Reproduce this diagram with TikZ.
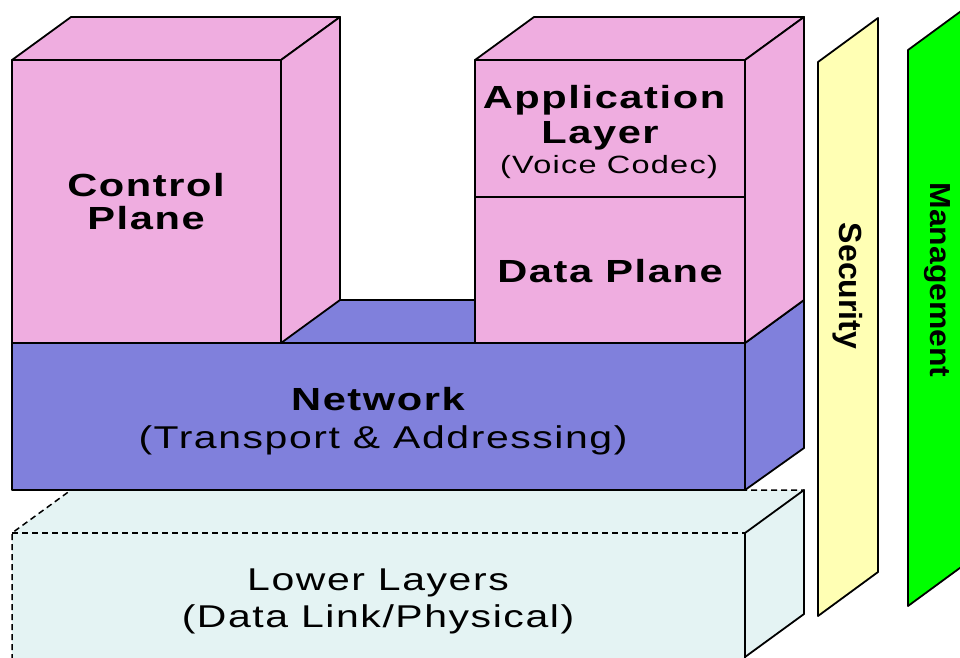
\documentclass[tikz,border=0pt]{standalone}
\usepackage{fontspec}
% wide, lightly tracked sans for the block labels; plain sans for the side bars
\newfontfamily\labelfont[FakeStretch=1.3,LetterSpace=5]{Liberation Sans}
\newfontfamily\barfont{Liberation Sans}
\definecolor{planefill}{RGB}{239,173,224}
\definecolor{netfill}{RGB}{128,128,220}
\definecolor{lowfill}{RGB}{228,243,243}
\definecolor{secfill}{RGB}{255,255,180}
\definecolor{mgmtfill}{RGB}{0,255,0}
\begin{document}
\begin{tikzpicture}[x=1pt,y=-1pt,
  edge/.style={draw=black,line width=1.8pt,line join=round},
  dashedge/.style={draw=black,line width=1.5pt,dash pattern=on 6pt off 4pt},
  boldlbl/.style={font=\labelfont\bfseries\fontsize{32}{36}\selectfont,inner sep=0pt,anchor=base},
  reglbl/.style={font=\labelfont\fontsize{31.5}{35}\selectfont,inner sep=0pt,anchor=base},
  smalllbl/.style={font=\labelfont\fontsize{25}{29}\selectfont,inner sep=0pt,anchor=base},
  barlbl/.style={font=\barfont\bfseries\fontsize{32}{36}\selectfont,inner sep=0pt,rotate=-90}]
\useasboundingbox (0,0) rectangle (960,657);
\clip (0,0) rectangle (960,657);

% lower layers (dashed outline, partly hidden)
\fill[lowfill] (12,533) -- (71,490) -- (804,490) -- (804,614) -- (745,658) -- (12,658) -- cycle;
\draw[dashedge] (12,660) -- (12,533) -- (71,490) -- (804,490);
\draw[dashedge] (12,533) -- (745,533);
\draw[edge] (745,660) -- (745,533) -- (804,490) -- (804,614) -- (745,657);

% network block
\draw[edge,fill=netfill] (12,343) -- (71,300) -- (804,300) -- (745,343) -- cycle;
\draw[edge,fill=netfill] (745,343) -- (804,300) -- (804,448) -- (745,490) -- cycle;
\draw[edge,fill=netfill] (12,343) rectangle (745,490);

% control plane block
\draw[edge,fill=planefill] (12,60) -- (71,17) -- (340,17) -- (281,60) -- cycle;
\draw[edge,fill=planefill] (281,60) -- (340,17) -- (340,300) -- (281,343) -- cycle;
\draw[edge,fill=planefill] (12,60) rectangle (281,343);

% application / data plane block
\draw[edge,fill=planefill] (475,60) -- (534,17) -- (804,17) -- (745,60) -- cycle;
\draw[edge,fill=planefill] (745,60) -- (804,17) -- (804,300) -- (745,343) -- cycle;
\draw[edge,fill=planefill] (475,60) rectangle (745,343);
\draw[edge] (475,197) -- (745,197);

% side bars
\draw[edge,fill=secfill] (818,62) -- (878,18) -- (878,572) -- (818,616) -- cycle;
\draw[edge,fill=mgmtfill] (908,50) -- (968,6) -- (968,562) -- (908,606) -- cycle;

% labels
\node[boldlbl] (ctlA) at (146,196) {Control};
\node[boldlbl] (ctlB) at (146,229) {Plane};
\node[boldlbl] (appA) at (604,108) {Application};
\node[boldlbl] (appB) at (600,143) {Layer};
\node[smalllbl] (appC) at (609,173) {(Voice Codec)};
\node[boldlbl] (dataA) at (610,282) {Data Plane};
\node[boldlbl] (netA) at (378,410) {Network};
\node[reglbl] (netB) at (383,448) {(Transport \& Addressing)};
\node[reglbl] (lowA) at (378,590) {Lower Layers};
\node[reglbl] (lowB) at (378,627) {(Data Link/Physical)};
\node[barlbl] (sec) at (848,286) {Security};
\node[barlbl,font=\barfont\bfseries\fontsize{29}{31}\selectfont] (mgmt) at (937,280) {\scalebox{1.1}[1]{Management}};
\end{tikzpicture}
\end{document}
